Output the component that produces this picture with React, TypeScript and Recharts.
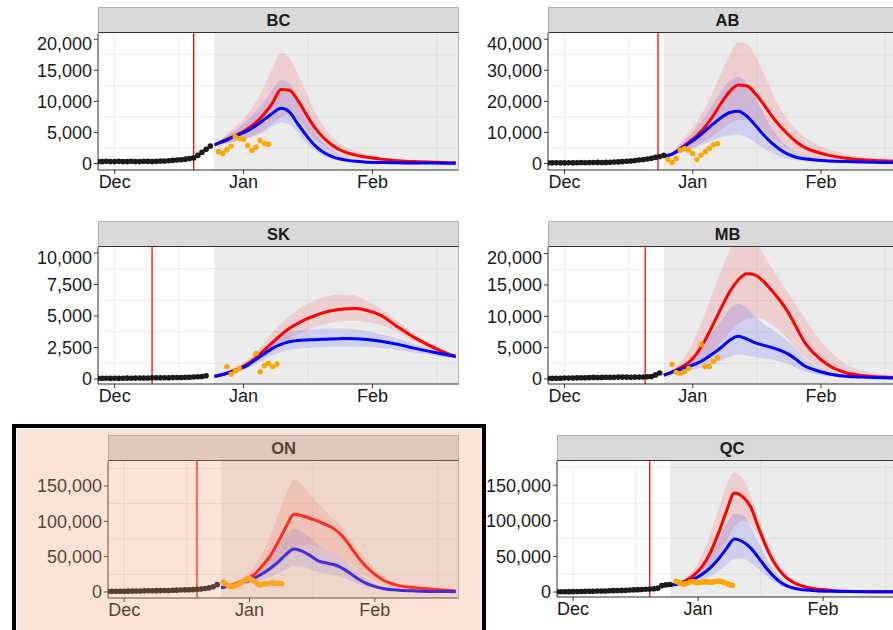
import { memo } from "react";
import {
  Area,
  CartesianGrid,
  ComposedChart,
  Line,
  ReferenceArea,
  ReferenceLine,
  Scatter,
  XAxis,
  YAxis,
} from "recharts";

const FONT = '"Liberation Sans", Arial, Helvetica, sans-serif';
const TEXT = "#1a1a1a";
const AXIS_LINE = "#333333";
const GRID = "#ebebeb";
const RED = "#ff0000";
const BLUE = "#0000ff";
const ORANGE = "#ffa500";
const DOT = "#1a1a1a";

// x axis is "days since Dec 1"
const MONTH_TICKS = [0, 31, 62];
const MONTH_LABELS = ["Dec", "Jan", "Feb"];
const MONTH_MINOR = [15.5, 46.5, 77.5];
const X_DOMAIN: [number, number] = [-4, 82.8];
const SHADE_START = 24;
const OBS_START = -4;

// projection days (values below are in thousands)
const DAYS = [24, 26, 28, 30, 32, 34, 36, 38, 40, 42, 44, 46, 48, 50, 52, 54, 56, 58, 60, 64, 68, 72, 77, 82];

// ---- BC ----
const BC_OBS = [0.3, 0.3, 0.35, 0.3, 0.3, 0.35, 0.3, 0.3, 0.35, 0.3, 0.3, 0.35, 0.35, 0.3, 0.35, 0.4, 0.4, 0.45, 0.5, 0.55, 0.6, 0.7, 0.8, 0.9, 1.3, 1.8, 2.3, 2.8];
const BC_NEW_DAYS = [25, 26, 27, 28, 29, 30, 31, 32, 33, 34, 35, 36, 37];
const BC_NEW = [1.9, 1.6, 2.2, 2.8, 4.3, 4.0, 3.9, 2.9, 2.1, 2.6, 3.7, 3.2, 3.1];
const BC_RED = [3.0, 3.6, 4.2, 4.8, 5.6, 6.6, 8.0, 9.8, 11.9, 11.8, 10.2, 8.0, 5.9, 4.3, 3.1, 2.25, 1.7, 1.35, 1.07, 0.7, 0.45, 0.3, 0.18, 0.1];
const BC_RED_LO = [2.8, 3.1, 3.4, 3.7, 4.1, 4.6, 5.4, 6.5, 7.5, 7.8, 7.0, 5.5, 4.0, 2.9, 2.1, 1.5, 1.1, 0.85, 0.65, 0.4, 0.25, 0.15, 0.1, 0.05];
const BC_RED_HI = [3.2, 4.2, 5.3, 6.5, 8.0, 10.0, 12.5, 15.5, 17.8, 17.0, 14.5, 11.5, 8.5, 6.2, 4.5, 3.3, 2.5, 2.0, 1.6, 1.1, 0.75, 0.5, 0.3, 0.2];
const BC_BLUE = [3.0, 3.5, 4.1, 4.7, 5.3, 6.1, 7.1, 8.1, 8.9, 8.3, 6.4, 4.6, 3.0, 1.9, 1.2, 0.75, 0.5, 0.35, 0.25, 0.15, 0.1, 0.08, 0.06, 0.05];
const BC_BLUE_LO = [2.8, 3.1, 3.4, 3.7, 4.0, 4.5, 5.2, 6.0, 6.6, 6.3, 4.9, 3.4, 2.2, 1.3, 0.8, 0.5, 0.3, 0.2, 0.15, 0.1, 0.06, 0.05, 0.04, 0.03];
const BC_BLUE_HI = [3.2, 4.0, 4.9, 5.9, 7.0, 8.4, 10.0, 12.0, 13.4, 12.8, 10.5, 7.8, 5.3, 3.5, 2.3, 1.5, 1.0, 0.7, 0.5, 0.3, 0.2, 0.15, 0.1, 0.08];

// ---- AB ----
const AB_OBS = [0.2, 0.2, 0.25, 0.2, 0.2, 0.25, 0.2, 0.25, 0.3, 0.25, 0.3, 0.3, 0.35, 0.3, 0.35, 0.4, 0.45, 0.5, 0.6, 0.7, 0.8, 0.95, 1.1, 1.25, 1.45, 1.7, 1.95, 2.25, 2.6];
const AB_NEW_DAYS = [25, 26, 27, 28, 29, 30, 31, 32, 33, 34, 35, 36, 37];
const AB_NEW = [1.3, 0.3, 1.6, 4.3, 4.8, 4.3, 3.2, 1.3, 2.7, 3.8, 4.8, 6.0, 6.4];
const AB_RED = [2.3, 3.0, 4.8, 6.8, 9.0, 11.8, 15.5, 19.7, 23.3, 25.3, 25.0, 22.7, 19.3, 15.5, 12.2, 9.4, 7.0, 5.2, 4.1, 2.6, 1.7, 1.2, 0.85, 0.6];
const AB_RED_LO = [2.1, 2.5, 3.5, 4.6, 5.8, 7.3, 9.0, 11.0, 13.0, 14.0, 14.0, 12.8, 10.8, 8.5, 6.5, 4.8, 3.5, 2.6, 2.0, 1.2, 0.8, 0.55, 0.4, 0.3];
const AB_RED_HI = [2.5, 3.8, 6.5, 9.8, 13.5, 18.0, 23.5, 29.5, 35.0, 39.0, 38.5, 35.0, 29.5, 23.5, 18.0, 14.0, 11.0, 8.5, 6.8, 4.5, 3.0, 2.1, 1.5, 1.1];
const AB_BLUE = [2.3, 3.0, 4.6, 6.4, 8.3, 10.5, 12.8, 14.9, 16.4, 16.8, 15.3, 12.5, 9.4, 6.7, 4.6, 3.0, 2.0, 1.5, 1.2, 0.8, 0.6, 0.45, 0.35, 0.3];
const AB_BLUE_LO = [2.1, 2.5, 3.4, 4.3, 5.3, 6.4, 7.5, 8.5, 9.2, 9.4, 8.5, 6.8, 5.0, 3.5, 2.3, 1.5, 1.0, 0.75, 0.6, 0.4, 0.3, 0.22, 0.18, 0.15];
const AB_BLUE_HI = [2.5, 3.6, 6.0, 8.7, 11.7, 15.2, 19.2, 23.3, 26.6, 27.8, 26.0, 21.5, 16.3, 11.7, 8.0, 5.4, 3.7, 2.7, 2.1, 1.4, 1.0, 0.8, 0.6, 0.5];

// ---- SK ----
const SK_OBS = [0.05, 0.05, 0.06, 0.05, 0.06, 0.05, 0.06, 0.07, 0.06, 0.07, 0.08, 0.07, 0.08, 0.09, 0.1, 0.09, 0.1, 0.1, 0.11, 0.12, 0.12, 0.13, 0.14, 0.15, 0.17, 0.2, 0.25];
const SK_NEW_DAYS = [27, 28, 29, 30, 34, 35, 36, 37, 38, 39];
const SK_NEW = [0.98, 0.37, 0.63, 0.84, 2.03, 0.58, 1.05, 1.24, 0.98, 1.19];
const SK_RED = [0.2, 0.35, 0.6, 0.85, 1.2, 1.7, 2.3, 2.9, 3.5, 4.0, 4.4, 4.75, 5.0, 5.25, 5.42, 5.52, 5.58, 5.6, 5.5, 5.05, 4.15, 3.3, 2.45, 1.75];
const SK_RED_LO = [0.15, 0.27, 0.45, 0.65, 0.9, 1.3, 1.75, 2.2, 2.7, 3.1, 3.5, 3.85, 4.1, 4.3, 4.45, 4.55, 4.6, 4.6, 4.55, 4.3, 3.7, 3.0, 2.25, 1.6];
const SK_RED_HI = [0.25, 0.45, 0.75, 1.1, 1.55, 2.15, 2.9, 3.7, 4.4, 5.0, 5.5, 5.9, 6.2, 6.45, 6.6, 6.7, 6.7, 6.6, 6.3, 5.6, 4.6, 3.6, 2.65, 1.9];
const SK_BLUE = [0.2, 0.35, 0.55, 0.8, 1.1, 1.55, 2.0, 2.45, 2.75, 2.95, 3.05, 3.1, 3.12, 3.15, 3.18, 3.2, 3.22, 3.2, 3.15, 3.0, 2.75, 2.45, 2.1, 1.8];
const SK_BLUE_LO = [0.15, 0.27, 0.42, 0.6, 0.85, 1.2, 1.55, 1.9, 2.15, 2.3, 2.4, 2.45, 2.5, 2.52, 2.55, 2.57, 2.58, 2.57, 2.55, 2.45, 2.3, 2.1, 1.85, 1.6];
const SK_BLUE_HI = [0.25, 0.42, 0.7, 1.0, 1.4, 1.95, 2.5, 3.05, 3.45, 3.7, 3.85, 3.92, 3.95, 3.97, 3.98, 3.98, 3.97, 3.92, 3.82, 3.55, 3.2, 2.8, 2.35, 1.95];

// ---- MB ----
const MB_OBS = [0.1, 0.1, 0.12, 0.12, 0.15, 0.14, 0.16, 0.18, 0.2, 0.2, 0.22, 0.25, 0.24, 0.25, 0.27, 0.26, 0.28, 0.3, 0.3, 0.3, 0.28, 0.3, 0.3, 0.32, 0.35, 0.4, 0.65, 0.95];
const MB_NEW_DAYS = [26, 27, 28, 29, 30, 33, 34, 35, 36, 37];
const MB_NEW = [2.3, 1.06, 0.9, 1.2, 1.7, 5.5, 2.0, 2.0, 2.8, 3.4];
const MB_RED = [0.6, 1.1, 1.8, 2.6, 4.1, 6.2, 8.8, 11.5, 14.0, 15.8, 16.8, 16.6, 15.6, 14.2, 12.6, 10.7, 8.3, 5.9, 4.3, 2.1, 1.0, 0.55, 0.3, 0.2];
const MB_RED_LO = [0.5, 0.8, 1.2, 1.6, 2.3, 3.3, 4.6, 6.0, 7.5, 8.8, 9.6, 9.8, 9.5, 8.8, 7.7, 6.3, 4.8, 3.5, 2.5, 1.2, 0.6, 0.3, 0.18, 0.1];
const MB_RED_HI = [0.7, 1.5, 2.7, 4.5, 7.2, 10.5, 14.0, 17.5, 20.5, 22.5, 23.0, 22.0, 20.0, 17.8, 15.8, 13.8, 11.8, 9.8, 7.8, 4.6, 2.4, 1.3, 0.7, 0.4];
const MB_BLUE = [0.6, 1.1, 1.55, 2.0, 2.5, 3.2, 4.1, 5.1, 6.2, 6.8, 6.4, 5.8, 5.4, 5.05, 4.6, 4.0, 3.1, 2.1, 1.55, 0.8, 0.45, 0.3, 0.18, 0.12];
const MB_BLUE_LO = [0.5, 0.8, 1.1, 1.35, 1.65, 2.0, 2.5, 3.0, 3.6, 3.9, 3.8, 3.5, 3.3, 3.1, 2.8, 2.4, 1.8, 1.2, 0.85, 0.45, 0.25, 0.15, 0.1, 0.07];
const MB_BLUE_HI = [0.7, 1.4, 2.2, 3.2, 4.4, 5.9, 7.6, 9.4, 11.2, 12.0, 11.3, 10.0, 8.9, 8.0, 7.1, 6.0, 4.7, 3.3, 2.4, 1.2, 0.65, 0.4, 0.25, 0.15];

// ---- ON ----
const ON_OBS = [0.8, 0.9, 1.0, 1.0, 1.1, 1.2, 1.3, 1.4, 1.5, 1.6, 1.7, 1.8, 1.9, 2.0, 2.1, 2.2, 2.4, 2.6, 2.8, 3.0, 3.2, 3.4, 3.8, 4.3, 5.0, 6.0, 7.5, 10.5];
const ON_NEW_DAYS = [24.5, 25, 25.5, 26, 26.5, 27, 27.5, 28, 28.5, 29, 29.5, 30, 30.5, 31, 31.5, 32, 32.5, 33, 33.5, 34, 34.5, 35, 35.5, 36, 36.5, 37, 37.5, 38, 38.5, 39];
const ON_NEW = [14, 12, 10, 8, 7.5, 8.5, 9, 10, 11.5, 13, 15, 17, 18.5, 19, 17.5, 16, 14, 11, 9.5, 10.5, 11, 12, 11.5, 12.5, 13, 12.5, 12, 12.5, 12, 11.5];
const ON_RED = [6, 9, 13, 17.5, 24, 36, 50, 70, 92, 110, 108, 104, 100, 95, 89, 79, 64, 48, 35, 17, 9, 6, 3.5, 1.5];
const ON_RED_LO = [5.5, 8, 10.5, 13.5, 17, 23, 30, 40, 52, 62, 66, 66, 64, 60, 55, 48, 39, 29, 21, 10, 5, 3, 1.8, 0.8];
const ON_RED_HI = [6.5, 10, 15, 23, 35, 53, 78, 108, 138, 158, 152, 138, 125, 113, 102, 90, 75, 58, 44, 23, 12, 8, 5, 2.5];
const ON_BLUE = [6, 8.5, 11, 14.5, 19, 25.5, 33, 42, 53, 61, 58, 51.5, 44, 41, 38.5, 33.5, 26, 18, 11.8, 5, 2.5, 1.5, 0.8, 0.5];
const ON_BLUE_LO = [5.5, 7.5, 9, 11, 13.5, 17, 21, 26, 32, 37, 36, 32, 28, 26, 24, 21, 16, 11, 7, 3, 1.5, 0.9, 0.5, 0.3];
const ON_BLUE_HI = [6.5, 9.5, 13, 18.5, 26, 37, 50, 65, 81, 90, 86, 77, 67, 60, 55, 48, 38, 27, 18, 8, 4, 2.5, 1.3, 0.8];

// ---- QC ----
const QC_OBS = [0.3, 0.4, 0.4, 0.5, 0.6, 0.7, 0.8, 0.9, 1.0, 1.1, 1.3, 1.4, 1.5, 1.7, 1.9, 2.1, 2.3, 2.5, 2.8, 3.0, 3.3, 3.6, 3.9, 4.2, 4.6, 5.5, 9.0, 10.0, 10.5];
const QC_NEW_DAYS = [25.5, 26, 26.5, 27, 27.5, 28, 28.5, 29, 29.5, 30, 30.5, 31, 31.5, 32, 32.5, 33, 33.5, 34, 34.5, 35, 35.5, 36, 36.5, 37, 37.5, 38, 38.5, 39, 39.5];
const QC_NEW = [15, 14, 12, 11.5, 11, 12, 12.5, 14, 15, 14.5, 13, 13, 13.5, 14, 14, 14.5, 14, 13.5, 14, 14.5, 15, 15.5, 15, 14.5, 13, 12.5, 11, 10, 9.5];
const QC_RED = [9.5, 12, 16, 24, 36, 55, 82, 113, 139, 134, 120, 90, 62, 40, 25, 15.5, 10, 6.5, 4.5, 2.3, 1.2, 0.7, 0.4, 0.3];
const QC_RED_LO = [9, 10.5, 13, 18, 25, 36, 52, 72, 92, 100, 95, 78, 55, 35, 21, 12.5, 7.5, 5, 3.3, 1.7, 0.9, 0.5, 0.3, 0.2];
const QC_RED_HI = [10, 14, 21, 33, 52, 80, 115, 150, 168, 160, 135, 102, 72, 48, 31, 20, 13, 8.5, 6, 3, 1.6, 1, 0.6, 0.4];
const QC_BLUE = [9.5, 11, 14, 18.5, 25, 34, 46, 61, 74.5, 71, 62, 48, 33, 20.5, 11.5, 6.5, 4, 2.7, 1.9, 1.1, 0.7, 0.5, 0.3, 0.2];
const QC_BLUE_LO = [9, 10, 12, 14, 17, 22, 29, 38, 46, 47, 41, 32, 22, 13.5, 7.5, 4.2, 2.6, 1.8, 1.3, 0.7, 0.45, 0.3, 0.2, 0.13];
const QC_BLUE_HI = [10, 13, 18, 26, 37, 52, 72, 95, 110, 108, 92, 70, 48, 30, 17, 9.5, 6, 4, 2.8, 1.6, 1, 0.7, 0.45, 0.3];

type Row = { day: number; red: number; blue: number; redBand: [number, number]; blueBand: [number, number] };
type Pt = { day: number; v: number };

function projRows(red: number[], redLo: number[], redHi: number[], blue: number[], blueLo: number[], blueHi: number[]): Row[] {
  return DAYS.map((day, i) => ({
    day,
    red: red[i] * 1000,
    blue: blue[i] * 1000,
    redBand: [redLo[i] * 1000, redHi[i] * 1000],
    blueBand: [blueLo[i] * 1000, blueHi[i] * 1000],
  }));
}

const obsPoints = (vals: number[]): Pt[] => vals.map((v, i) => ({ day: OBS_START + i, v: v * 1000 }));
const newPoints = (days: number[], vals: number[]): Pt[] => days.map((day, i) => ({ day, v: vals[i] * 1000 }));

const Y_W = 90;
const X_H = 30;
const STRIP_H = 26;

const fmtNum = (v: number) => v.toLocaleString("en-US");
const fmtMonth = (v: number) => MONTH_LABELS[MONTH_TICKS.indexOf(v)] ?? "";

const dot = (color: string, r: number) => (p: any) => <circle cx={p.cx} cy={p.cy} r={r} fill={color} />;

const Panel = memo(function Panel({
  title,
  left,
  right,
  stripTop,
  plotBottom,
  yDomain,
  yTicks,
  yMinor,
  cutoff,
  rows,
  obs,
  fresh,
}: {
  title: string;
  left: number;
  right: number;
  stripTop: number;
  plotBottom: number;
  yDomain: [number, number];
  yTicks: number[];
  yMinor: number[];
  cutoff: number;
  rows: Row[];
  obs: Pt[];
  fresh: Pt[];
}) {
  const w = right - left;
  const plotTop = stripTop + STRIP_H;
  const h = plotBottom - plotTop;
  return (
    <>
      <div
        style={{
          position: "absolute",
          left,
          top: stripTop,
          width: w,
          height: STRIP_H,
          boxSizing: "border-box",
          background: "#d9d9d9",
          borderTop: "1px solid #b0b0b0",
          borderRight: "1px solid #b0b0b0",
          borderLeft: "1px solid #b0b0b0",
          borderBottom: `1.5px solid ${AXIS_LINE}`,
          display: "flex",
          alignItems: "center",
          justifyContent: "center",
          fontFamily: FONT,
          fontWeight: 700,
          fontSize: 16.5,
          color: TEXT,
        }}
      >
        {title}
      </div>
      <div style={{ position: "absolute", left: left - Y_W, top: plotTop }}>
        <ComposedChart width={Y_W + w} height={h + X_H} data={rows} margin={{ top: 0, right: 0, bottom: 0, left: 0 }}>
          <CartesianGrid
            stroke={GRID}
            strokeWidth={1}
            verticalValues={[...MONTH_TICKS, ...MONTH_MINOR]}
            horizontalValues={[...yTicks, ...yMinor]}
          />
          <ReferenceArea
            x1={SHADE_START}
            x2={X_DOMAIN[1]}
            fill="#d4d4d4"
            fillOpacity={0.45}
            stroke="none"
            ifOverflow="hidden"
          />
          <XAxis
            type="number"
            dataKey="day"
            domain={X_DOMAIN}
            ticks={MONTH_TICKS}
            tickFormatter={fmtMonth}
            allowDataOverflow
            height={X_H}
            stroke={AXIS_LINE}
            tickSize={4}
            tickMargin={1}
            tick={{ fill: TEXT, fontSize: 18, fontFamily: FONT }}
          />
          <YAxis
            type="number"
            domain={yDomain}
            ticks={yTicks}
            tickFormatter={fmtNum}
            allowDataOverflow
            width={Y_W}
            stroke={AXIS_LINE}
            tickSize={4}
            tickMargin={2}
            tick={{ fill: TEXT, fontSize: 18, fontFamily: FONT }}
          />
          <Area dataKey="redBand" type="monotone" stroke="none" fill={RED} fillOpacity={0.12} isAnimationActive={false} />
          <Area dataKey="blueBand" type="monotone" stroke="none" fill={BLUE} fillOpacity={0.12} isAnimationActive={false} />
          <ReferenceLine x={cutoff} stroke={RED} strokeWidth={1.3} />
          <Scatter data={obs} dataKey="v" shape={dot(DOT, 2.8)} isAnimationActive={false} />
          <Line dataKey="red" type="monotone" stroke={RED} strokeWidth={3} dot={false} isAnimationActive={false} />
          <Line dataKey="blue" type="monotone" stroke={BLUE} strokeWidth={3} dot={false} isAnimationActive={false} />
          <Scatter data={fresh} dataKey="v" shape={dot(ORANGE, 2.7)} isAnimationActive={false} />
        </ComposedChart>
      </div>
      <div
        style={{
          position: "absolute",
          left,
          top: plotTop,
          width: w,
          height: h,
          boxSizing: "border-box",
          borderRight: "1px solid #b5b5b5",
          pointerEvents: "none",
        }}
      />
    </>
  );
});

export default function App() {
  return (
    <div
      style={{
        position: "fixed",
        left: 0,
        top: 0,
        width: 893,
        height: 630,
        overflow: "hidden",
        background: "#ffffff",
        fontFamily: FONT,
      }}
    >
      <Panel
        title="BC"
        left={98}
        right={459}
        stripTop={7}
        plotBottom={170}
        yDomain={[-1050, 21000]}
        yTicks={[0, 5000, 10000, 15000, 20000]}
        yMinor={[2500, 7500, 12500, 17500]}
        cutoff={19}
        rows={projRows(BC_RED, BC_RED_LO, BC_RED_HI, BC_BLUE, BC_BLUE_LO, BC_BLUE_HI)}
        obs={obsPoints(BC_OBS)}
        fresh={newPoints(BC_NEW_DAYS, BC_NEW)}
      />
      <Panel
        title="AB"
        left={548}
        right={907}
        stripTop={7}
        plotBottom={170}
        yDomain={[-2100, 42000]}
        yTicks={[0, 10000, 20000, 30000, 40000]}
        yMinor={[5000, 15000, 25000, 35000]}
        cutoff={22.6}
        rows={projRows(AB_RED, AB_RED_LO, AB_RED_HI, AB_BLUE, AB_BLUE_LO, AB_BLUE_HI)}
        obs={obsPoints(AB_OBS)}
        fresh={newPoints(AB_NEW_DAYS, AB_NEW)}
      />
      <Panel
        title="SK"
        left={98}
        right={459}
        stripTop={221}
        plotBottom={384}
        yDomain={[-400, 10480]}
        yTicks={[0, 2500, 5000, 7500, 10000]}
        yMinor={[1250, 3750, 6250, 8750]}
        cutoff={9}
        rows={projRows(SK_RED, SK_RED_LO, SK_RED_HI, SK_BLUE, SK_BLUE_LO, SK_BLUE_HI)}
        obs={obsPoints(SK_OBS)}
        fresh={newPoints(SK_NEW_DAYS, SK_NEW)}
      />
      <Panel
        title="MB"
        left={548}
        right={907}
        stripTop={221}
        plotBottom={384}
        yDomain={[-800, 21050]}
        yTicks={[0, 5000, 10000, 15000, 20000]}
        yMinor={[2500, 7500, 12500, 17500]}
        cutoff={19.5}
        rows={projRows(MB_RED, MB_RED_LO, MB_RED_HI, MB_BLUE, MB_BLUE_LO, MB_BLUE_HI)}
        obs={obsPoints(MB_OBS)}
        fresh={newPoints(MB_NEW_DAYS, MB_NEW)}
      />
      <div
        style={{
          position: "absolute",
          left: 12,
          top: 424,
          width: 474,
          height: 230,
          boxSizing: "border-box",
          border: "4.5px solid #000",
          background: "#ffffff",
        }}
      />
      <Panel
        title="ON"
        left={108}
        right={459}
        stripTop={435}
        plotBottom={598}
        yDomain={[-8500, 185400]}
        yTicks={[0, 50000, 100000, 150000]}
        yMinor={[25000, 75000, 125000, 175000]}
        cutoff={18}
        rows={projRows(ON_RED, ON_RED_LO, ON_RED_HI, ON_BLUE, ON_BLUE_LO, ON_BLUE_HI)}
        obs={obsPoints(ON_OBS)}
        fresh={newPoints(ON_NEW_DAYS, ON_NEW)}
      />
      <div
        style={{
          position: "absolute",
          left: 16.5,
          top: 428.5,
          width: 465,
          height: 210,
          background: "rgba(245, 160, 115, 0.28)",
          pointerEvents: "none",
        }}
      />
      <Panel
        title="QC"
        left={557}
        right={907}
        stripTop={435}
        plotBottom={597}
        yDomain={[-7000, 184000]}
        yTicks={[0, 50000, 100000, 150000]}
        yMinor={[25000, 75000, 125000, 175000]}
        cutoff={19}
        rows={projRows(QC_RED, QC_RED_LO, QC_RED_HI, QC_BLUE, QC_BLUE_LO, QC_BLUE_HI)}
        obs={obsPoints(QC_OBS)}
        fresh={newPoints(QC_NEW_DAYS, QC_NEW)}
      />
    </div>
  );
}
